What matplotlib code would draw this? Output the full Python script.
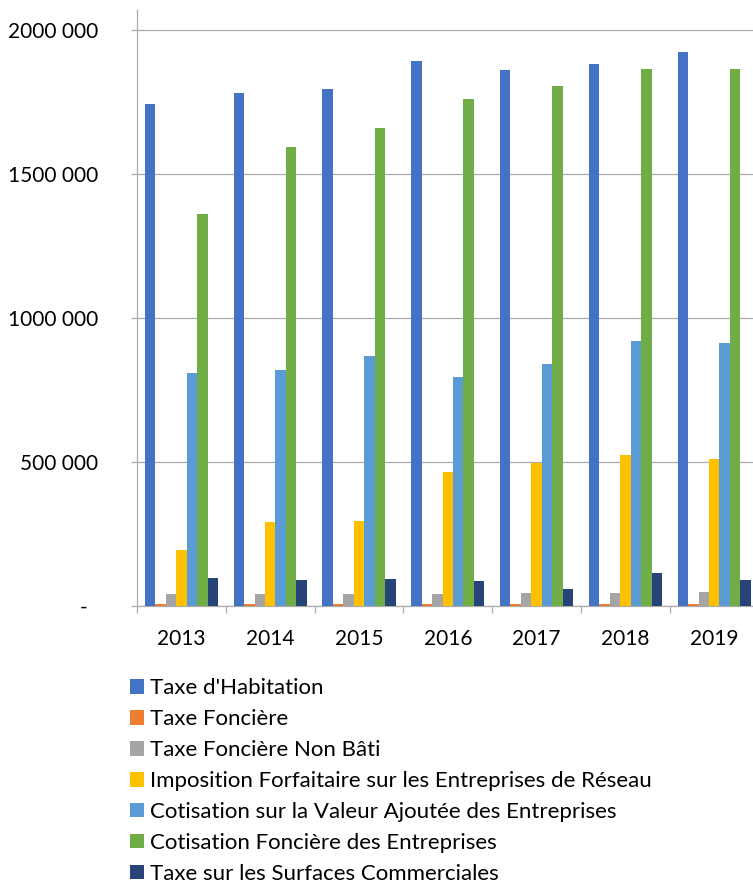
import numpy as np
import matplotlib
matplotlib.use("Agg")
import matplotlib.pyplot as plt
from matplotlib.patches import Patch

# Tax revenue by year (euros)
years = ["2013", "2014", "2015", "2016", "2017", "2018", "2019"]
taxe_habitation = [1742000, 1780000, 1794000, 1893000, 1860000, 1882000, 1922000]
taxe_fonciere = [7000, 7000, 7000, 7000, 7000, 7000, 7000]
taxe_fonciere_non_bati = [42000, 42000, 42000, 42000, 44000, 44000, 47000]
ifer = [194000, 293000, 295000, 464000, 495000, 524000, 510000]
cvae = [809000, 819000, 869000, 795000, 840000, 920000, 913000]
cfe = [1362000, 1594000, 1660000, 1759000, 1804000, 1865000, 1865000]
tascom = [96000, 89000, 94000, 87000, 58000, 116000, 91000]

series_names = [
    "Taxe d'Habitation",
    "Taxe Foncière",
    "Taxe Foncière Non Bâti",
    "Imposition Forfaitaire sur les Entreprises de Réseau",
    "Cotisation sur la Valeur Ajoutée des Entreprises",
    "Cotisation Foncière des Entreprises",
    "Taxe sur les Surfaces Commerciales",
]
series_values = [taxe_habitation, taxe_fonciere, taxe_fonciere_non_bati,
                 ifer, cvae, cfe, tascom]
colors = ["#4472C4", "#ED7D31", "#A5A5A5", "#FFC000", "#5B9BD5", "#70AD47", "#264478"]

y_ticks = [0, 500000, 1000000, 1500000, 2000000]
y_tick_labels = ["-  ", "500 000", "1000 000", "1500 000", "2000 000"]

plt.rcParams["font.family"] = ["Lato", "DejaVu Sans"]

W, H = 753, 883
fig = plt.figure(figsize=(W / 100, H / 100), dpi=100)

px_per_unit = 288 / 1e6
y_top = 2070000
ax_left, ax_bottom_px = 137, 606
cat_w = 88.8
ax = fig.add_axes([ax_left / W, (H - ax_bottom_px) / H,
                   len(years) * cat_w / W, y_top * px_per_unit / H])

n = len(series_values)
bar_w = 1 / (n + 1.5)
x = np.arange(len(years))
for i, (vals, col) in enumerate(zip(series_values, colors)):
    offset = (i - (n - 1) / 2) * bar_w
    ax.bar(x + offset, vals, width=bar_w, color=col, linewidth=0, zorder=3)

ax.set_xlim(-0.5, len(years) - 0.5)
ax.set_ylim(0, y_top)

grid_col = "#ABABAB"
ax.set_yticks(y_ticks)
ax.set_yticklabels(y_tick_labels)
ax.yaxis.grid(True, color=grid_col, linewidth=0.9, zorder=0)
ax.tick_params(axis="y", length=4, width=0.9, color=grid_col, pad=24,
               labelsize=15, labelcolor="black")

ax.set_xticks(x)
ax.set_xticklabels(years)
ax.set_xticks(np.arange(-0.5, len(years), 1), minor=True)
ax.tick_params(axis="x", which="major", length=0, pad=16.5, labelsize=15)
ax.tick_params(axis="x", which="minor", length=5, width=0.9, color=grid_col)

for side in ("top", "right"):
    ax.spines[side].set_visible(False)
for side in ("left", "bottom"):
    ax.spines[side].set_color(grid_col)
    ax.spines[side].set_linewidth(0.9)

handles = [Patch(facecolor=c, edgecolor="none") for c in colors]
fig.legend(handles, series_names, loc="upper left",
           bbox_to_anchor=(130 / W, 1 - 678.5 / H), frameon=False,
           fontsize=16, handlelength=0.62, handleheight=0.62,
           handletextpad=0.28, labelspacing=0.49, borderpad=0, borderaxespad=0)

fig.savefig("out.png", dpi=100)
